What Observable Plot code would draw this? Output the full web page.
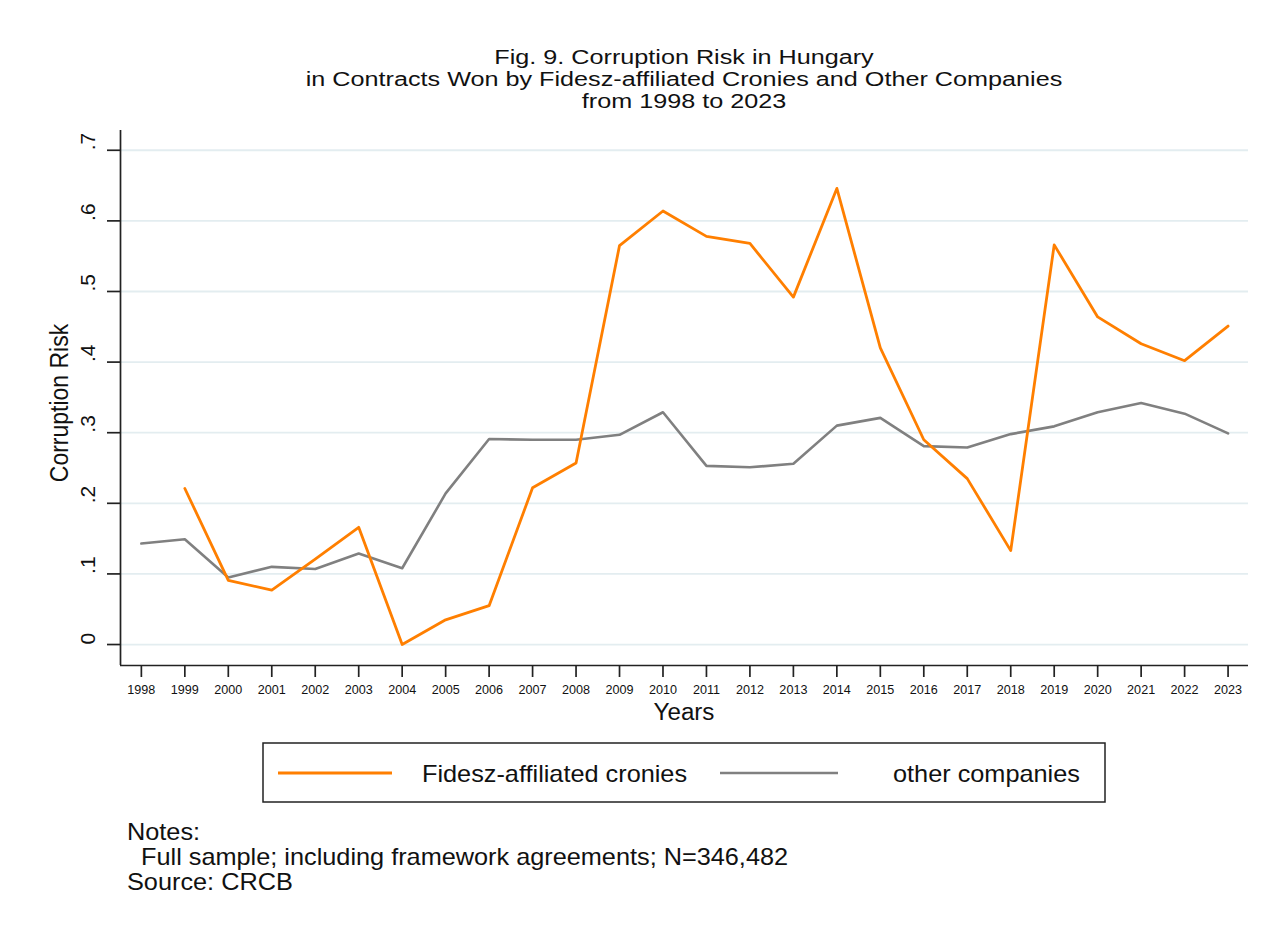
<!DOCTYPE html>
<html>
<head>
<meta charset="utf-8">
<script src="https://cdn.jsdelivr.net/npm/d3@7"></script>
<script src="https://cdn.jsdelivr.net/npm/@observablehq/plot@0.6"></script>
<style>
  body { margin: 0; background: #fff; }
  svg text { font-family: "Liberation Sans", Arial, sans-serif; }
</style>
</head>
<body>
<div id="chart"></div>
<script>
// ---- data ----
const years = [1998, 1999, 2000, 2001, 2002, 2003, 2004, 2005, 2006, 2007, 2008, 2009, 2010,
               2011, 2012, 2013, 2014, 2015, 2016, 2017, 2018, 2019, 2020, 2021, 2022, 2023];
const fidesz = [null, 0.221, 0.091, 0.077, 0.121, 0.166, 0.000, 0.035, 0.055, 0.222, 0.257, 0.565, 0.614,
                0.578, 0.568, 0.492, 0.646, 0.420, 0.290, 0.235, 0.133, 0.566, 0.464, 0.426, 0.402, 0.451];
const others = [0.143, 0.149, 0.095, 0.110, 0.107, 0.129, 0.108, 0.214, 0.291, 0.290, 0.290, 0.297, 0.329,
                0.253, 0.251, 0.256, 0.310, 0.321, 0.281, 0.279, 0.298, 0.309, 0.329, 0.342, 0.327, 0.299];
const yTicks = [0, 0.1, 0.2, 0.3, 0.4, 0.5, 0.6, 0.7];
const yTickLabels = ["0", ".1", ".2", ".3", ".4", ".5", ".6", ".7"];
const seriesNames = ["Fidesz-affiliated cronies", "other companies"];
const seriesColors = ["#ff7f00", "#808080"];
const titleLines = ["Fig. 9. Corruption Risk in Hungary",
                    "in Contracts Won by Fidesz-affiliated Cronies and Other Companies",
                    "from 1998 to 2023"];
const yTitle = "Corruption Risk";
const xTitle = "Years";
const notesLines = ["Notes:", "  Full sample; including framework agreements; N=346,482", "Source: CRCB"];

// ---- chart ----
const xDomain = [1997.52, 2023.47];
const yDomain = [-0.0297, 0.728];
const rows = years.map((yr, i) => ({year: yr, f: fidesz[i], o: others[i]}));
const ink = "#111";

const svgEl = Plot.plot({
  width: 1263,
  height: 929,
  marginTop: 130,
  marginLeft: 120,
  marginRight: 15,
  marginBottom: 264,
  style: {fontFamily: "Liberation Sans, Arial, sans-serif", background: "white", color: ink},
  x: {domain: xDomain, label: null},
  y: {domain: yDomain, label: null},
  marks: [
    Plot.gridY(yTicks, {stroke: "#e3edf0", strokeOpacity: 1, strokeWidth: 1.8}),
    Plot.ruleX([xDomain[0]], {stroke: "#222", strokeWidth: 1.7}),
    Plot.ruleY([yDomain[0]], {stroke: "#222", strokeWidth: 1.7}),
    Plot.axisY({ticks: yTicks, tickSize: 13, tickFormat: () => "", stroke: "#222", strokeWidth: 1.7, label: null}),
    Plot.text(yTicks, {y: d => d, text: (d, i) => yTickLabels[i], frameAnchor: "left", dx: -32,
                       rotate: -90, fontSize: 21, fill: ink}),
    Plot.axisX({ticks: years, tickSize: 12, tickPadding: 8, fontSize: 12.6, tickFormat: d => String(d),
                stroke: "#222", strokeWidth: 1.7, fill: ink, label: null}),
    Plot.line(rows, {x: "year", y: "o", stroke: seriesColors[1], strokeWidth: 2.6}),
    Plot.line(rows, {x: "year", y: "f", stroke: seriesColors[0], strokeWidth: 2.8})
  ]
});
document.getElementById("chart").appendChild(svgEl);

const svg = d3.select(svgEl);
// title
const titleBase = [64, 86, 108];
titleLines.forEach((t, i) => {
  svg.append("text")
    .attr("transform", `translate(684,${titleBase[i]}) scale(1.2,1)`)
    .attr("text-anchor", "middle").attr("font-size", 21).attr("fill", ink).text(t);
});
// axis titles
svg.append("text")
  .attr("transform", "translate(68,403) scale(1.1,1) rotate(-90)")
  .attr("text-anchor", "middle").attr("font-size", 23).attr("fill", ink).text(yTitle);
svg.append("text")
  .attr("transform", "translate(684,720) scale(1.05,1)")
  .attr("text-anchor", "middle").attr("font-size", 23).attr("fill", ink).text(xTitle);

// legend
svg.append("rect").attr("x", 263).attr("y", 743).attr("width", 842).attr("height", 59)
  .attr("fill", "white").attr("stroke", "#222").attr("stroke-width", 1.5);
const legendItems = [{x1: 278, x2: 392, tx: 422}, {x1: 720, x2: 838, tx: 893}];
legendItems.forEach((it, i) => {
  svg.append("line").attr("x1", it.x1).attr("x2", it.x2).attr("y1", 773).attr("y2", 773)
    .attr("stroke", seriesColors[i]).attr("stroke-width", i === 0 ? 2.8 : 2.6);
  svg.append("text").attr("transform", `translate(${it.tx},782) scale(1.1,1)`)
    .attr("text-anchor", "start")
    .attr("font-size", 23).attr("fill", ink).text(seriesNames[i]);
});

// notes
const noteBase = [840, 865, 890];
notesLines.forEach((t, i) => {
  svg.append("text").attr("transform", `translate(127,${noteBase[i]}) scale(1.1,1)`)
    .attr("text-anchor", "start")
    .style("white-space", "pre")
    .attr("font-size", 23).attr("fill", ink).text(t);
});
</script>
</body>
</html>
